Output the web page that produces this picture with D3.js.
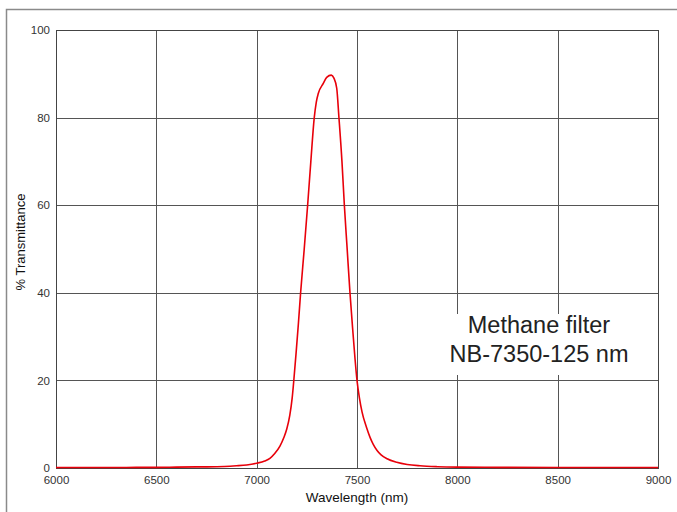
<!DOCTYPE html>
<html>
<head>
<meta charset="utf-8">
<script src="https://cdn.jsdelivr.net/npm/d3@7"></script>
<style>
  body { margin: 0; background: #fff; }
  svg { display: block; font-family: "Liberation Sans", Arial, sans-serif; }
</style>
</head>
<body>
<div class="forSvg"></div>
<script>
// size of svg
const svg_w = 677;
const svg_h = 512;
// plot area edges
const plotL = 56, plotR = 658, plotT = 30, plotB = 468;

// data
const wavelength = [6000, 6100, 6200, 6300, 6400, 6500, 6600, 6700, 6800, 6867, 6900, 6950,
  7000, 7040, 7066, 7090, 7116, 7135, 7150, 7165, 7177, 7186, 7196, 7208, 7219, 7237,
  7254, 7270, 7287, 7297, 7307, 7332, 7349, 7372, 7385, 7399, 7410, 7425, 7437, 7451,
  7465, 7478, 7490, 7500, 7512, 7525, 7548, 7565, 7581, 7600, 7620, 7650, 7698, 7750,
  7814, 7900, 8000, 8200, 8500, 8800, 9000];
const transmittance = [0.1, 0.1, 0.1, 0.1, 0.15, 0.15, 0.2, 0.25, 0.3, 0.4, 0.5, 0.7,
  1.1, 1.6, 2.2, 3.3, 5.0, 6.9, 8.9, 12, 16, 20.5, 26, 33, 40, 50,
  60, 70, 80, 83.5, 85.5, 87.8, 89.2, 89.7, 89.0, 86.7, 80, 70, 60, 50,
  40, 32, 25, 20, 16, 12.8, 9.2, 7.0, 5.4, 4.0, 3.0, 2.1, 1.3, 0.8,
  0.5, 0.3, 0.2, 0.15, 0.1, 0.1, 0.1];
// tick labels
const xTicks = [6000, 6500, 7000, 7500, 8000, 8500, 9000];
const yTicks = [0, 20, 40, 60, 80, 100];
const noteLines = ["Methane filter", "NB-7350-125 nm"];

const xScale = d3.scaleLinear().domain([6000, 9000]).range([plotL, plotR]);
const yScale = d3.scaleLinear().domain([0, 100]).range([plotB, plotT]);

const svg = d3.select(".forSvg")
  .append("svg")
  .attr("width", svg_w)
  .attr("height", svg_h);

// outer frame (top and left only are visible)
svg.append("path")
  .attr("d", `M6.5,${svg_h} L6.5,9.5 L${svg_w},9.5`)
  .attr("fill", "none")
  .attr("stroke", "#8a8a8a")
  .attr("stroke-width", 1.5);

// grid lines
svg.append("g")
  .selectAll("line")
  .data(xTicks)
  .enter()
  .append("line")
  .attr("x1", d => Math.round(xScale(d)) + 0.5)
  .attr("x2", d => Math.round(xScale(d)) + 0.5)
  .attr("y1", plotT)
  .attr("y2", plotB)
  .attr("stroke", "#555");

svg.append("g")
  .selectAll("line")
  .data(yTicks)
  .enter()
  .append("line")
  .attr("x1", plotL)
  .attr("x2", plotR)
  .attr("y1", d => Math.round(yScale(d)) + 0.5)
  .attr("y2", d => Math.round(yScale(d)) + 0.5)
  .attr("stroke", "#555");

// plot border
svg.append("rect")
  .attr("x", plotL + 0.5)
  .attr("y", plotT + 0.5)
  .attr("width", plotR - plotL)
  .attr("height", plotB - plotT)
  .attr("fill", "none")
  .attr("stroke", "#444");

// axes (labels only)
const xAxis = d3.axisBottom(xScale).tickValues(xTicks).tickSize(0).tickPadding(8).tickFormat(d3.format("d"));
const yAxis = d3.axisLeft(yScale).tickValues(yTicks).tickSize(0).tickPadding(6).tickFormat(d3.format("d"));

svg.append("g")
  .attr("id", "x-axis")
  .attr("transform", `translate(0,${plotB})`)
  .call(xAxis)
  .call(g => g.select(".domain").remove())
  .selectAll("text")
  .attr("font-size", 11.5)
  .attr("font-family", "Liberation Sans, Arial, sans-serif")
  .attr("fill", "#333");

svg.append("g")
  .attr("id", "y-axis")
  .attr("transform", `translate(${plotL},0)`)
  .call(yAxis)
  .call(g => g.select(".domain").remove())
  .selectAll("text")
  .attr("font-size", 11.5)
  .attr("font-family", "Liberation Sans, Arial, sans-serif")
  .attr("fill", "#333");

// curve
const line = d3.line()
  .x((d, i) => xScale(wavelength[i]))
  .y(d => yScale(d))
  .curve(d3.curveMonotoneX);

svg.append("path")
  .datum(transmittance)
  .attr("d", line)
  .attr("fill", "none")
  .attr("stroke", "#e8000a")
  .attr("stroke-width", 1.6);

// axis titles
svg.append("text")
  .attr("x", 357)
  .attr("y", 502)
  .attr("text-anchor", "middle")
  .attr("font-size", 13.5)
  .attr("fill", "#111")
  .text("Wavelength (nm)");

svg.append("text")
  .attr("transform", "translate(25,242) rotate(-90)")
  .attr("text-anchor", "middle")
  .attr("font-size", 13)
  .attr("fill", "#111")
  .text("% Transmittance");

// note box
svg.append("rect")
  .attr("x", 440)
  .attr("y", 314)
  .attr("width", 200)
  .attr("height", 61)
  .attr("fill", "#fff");

svg.append("g")
  .selectAll("text")
  .data(noteLines)
  .enter()
  .append("text")
  .attr("x", 539)
  .attr("y", (d, i) => 333 + i * 29)
  .attr("text-anchor", "middle")
  .attr("font-size", 23.5)
  .attr("fill", "#222")
  .text(d => d);
</script>
</body>
</html>
